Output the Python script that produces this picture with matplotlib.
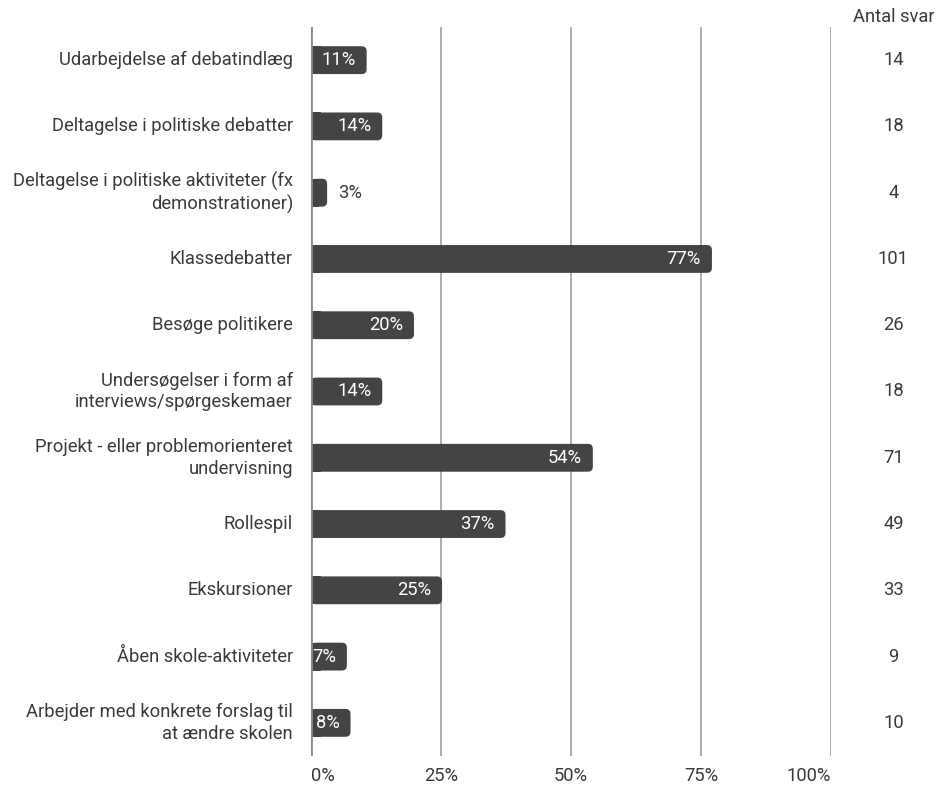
import matplotlib.pyplot as plt
from matplotlib.patches import FancyBboxPatch, Rectangle

plt.rcParams['font.family'] = ['Roboto', 'DejaVu Sans']

categories = [
    'Udarbejdelse af debatindlæg',
    'Deltagelse i politiske debatter',
    'Deltagelse i politiske aktiviteter (fx\ndemonstrationer)',
    'Klassedebatter',
    'Besøge politikere',
    'Undersøgelser i form af\ninterviews/spørgeskemaer',
    'Projekt - eller problemorienteret\nundervisning',
    'Rollespil',
    'Ekskursioner',
    'Åben skole-aktiviteter',
    'Arbejder med konkrete forslag til\nat ændre skolen',
]
percent = [10.7, 13.7, 3.1, 77.1, 19.8, 13.7, 54.2, 37.4, 25.2, 6.9, 7.6]
pct_labels = ['11%', '14%', '3%', '77%', '20%', '14%', '54%', '37%', '25%', '7%', '8%']
counts = [14, 18, 4, 101, 26, 18, 71, 49, 33, 9, 10]
xticks = [0, 25, 50, 75, 100]

bar_color = '#444444'
text_color = '#3a3a3a'
fs = 13.2

fig = plt.figure(figsize=(9.4, 7.87), dpi=100)
ax = fig.add_axes([311 / 940, 1 - 756 / 787, 520 / 940, 729 / 787])

n = len(categories)
ax.set_xlim(0, 100)
ax.set_ylim(n - 0.5, -0.5)

for x in xticks:
    ax.axvline(x, color='#9e9e9e', lw=1.2, zorder=1)
ax.axvline(0, color='#8a8a8a', lw=2, zorder=4)

h = 0.42
px_x = 100 / 520
px_y = 11 / 729
r = 5 * px_x
for i, (v, lab) in enumerate(zip(percent, pct_labels)):
    y0 = i - h / 2
    ax.add_patch(FancyBboxPatch((0, y0), v, h,
                                boxstyle=f'round,pad=0,rounding_size={r}',
                                mutation_aspect=px_y / px_x,
                                fc=bar_color, ec='none', zorder=3))
    ax.add_patch(Rectangle((0, y0), min(v / 2, 2 * r), h, fc=bar_color, ec='none', zorder=3))
    if v > 5:
        ax.text(v - 11 * px_x, i, lab, ha='right', va='center', color='white', fontsize=fs, zorder=5)
    else:
        ax.text(v + 11 * px_x, i, lab, ha='left', va='center', color=text_color, fontsize=fs, zorder=5)
    ax.text(-18 * px_x, i, categories[i], ha='right', va='center', color=text_color,
            fontsize=fs, linespacing=1.25)
    ax.text(112, i, str(counts[i]), ha='center', va='center', color=text_color, fontsize=fs)

ax.text(112, -0.5 - 10 * px_y, 'Antal svar', ha='center', va='center', color=text_color, fontsize=fs)

ax.set_xticks(xticks)
ax.set_xticklabels([f'{t}%' for t in xticks])
ax.tick_params(axis='x', length=0, labelsize=fs, labelcolor=text_color, pad=8)
tl = ax.get_xticklabels()
tl[0].set_ha('left')
tl[-1].set_ha('right')
ax.set_yticks([])
for s in ax.spines.values():
    s.set_visible(False)

fig.savefig('out.png', dpi=100)
